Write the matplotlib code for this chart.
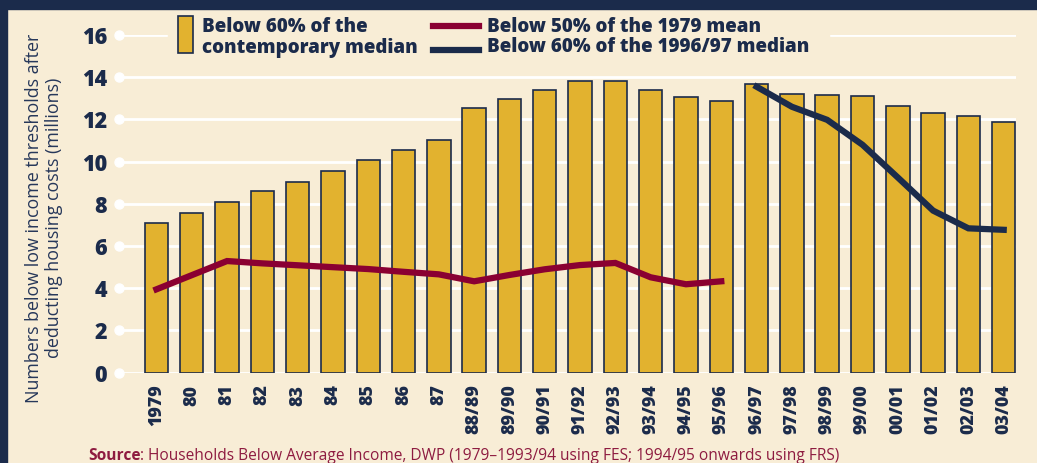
import matplotlib
matplotlib.use("Agg")
import matplotlib.pyplot as plt
from matplotlib.patches import Rectangle
from matplotlib.lines import Line2D
import numpy as np

categories = ["1979", "80", "81", "82", "83", "84", "85", "86", "87",
              "88/89", "89/90", "90/91", "91/92", "92/93", "93/94", "94/95",
              "95/96", "96/97", "97/98", "98/99", "99/00", "00/01", "01/02",
              "02/03", "03/04"]
contemporary_median = [7.07, 7.55, 8.07, 8.6, 9.05, 9.56, 10.06, 10.56, 11.04,
                       12.55, 12.97, 13.41, 13.84, 13.84, 13.41, 13.05, 12.89,
                       13.7, 13.21, 13.18, 13.11, 12.62, 12.29, 12.17, 11.9]
mean_1979_labels = categories[:17]
mean_1979 = [3.95, 4.62, 5.29, 5.18, 5.09, 5.0, 4.91, 4.78, 4.66, 4.33,
             4.63, 4.9, 5.1, 5.2, 4.52, 4.19, 4.33]
median_9697_labels = categories[17:]
median_9697 = [13.55, 12.6, 11.98, 10.8, 9.25, 7.68, 6.84, 6.77]
yticks = [0, 2, 4, 6, 8, 10, 12, 14, 16]

CREAM = "#F8EDD6"
GOLD = "#E2B22F"
NAVY = "#1B2B4B"
RED = "#8A0032"
SRC = "#8E1B40"
FONT = ["Open Sans", "DejaVu Sans"]
plt.rcParams["font.family"] = FONT

W, H = 1037, 463
fig = plt.figure(figsize=(W / 100, H / 100), dpi=100, facecolor=CREAM)

def fx(px):
    return px / W

def fy(py):
    return 1 - py / H

ax = fig.add_axes([fx(119), fy(372.7), fx(1015.7) - fx(119), fy(35) - fy(372.7)])
ax.set_facecolor(CREAM)
x = np.arange(len(categories))
ax.set_xlim(-1.06, len(categories) - 1 + 0.34)
ax.set_ylim(0, 16)
for s in ax.spines.values():
    s.set_visible(False)

ax.set_yticks(yticks)
ax.set_yticklabels([str(t) for t in yticks], fontsize=15.5, fontweight="heavy", color=NAVY)
ax.tick_params(axis="y", length=0, pad=8.5)
ax.yaxis.grid(True, color="white", linewidth=2.0, zorder=0)
ax.set_axisbelow(True)
ax.plot(np.full(len(yticks), ax.get_xlim()[0]), yticks, "o", color="white",
        markersize=6.5, clip_on=False, zorder=1)

ax.set_xticks(x)
ax.set_xticklabels(categories, rotation=90, fontsize=12.8, fontweight="heavy", color=NAVY,
                   va="top", ha="center")
ax.tick_params(axis="x", length=0, pad=8.5)

ax.bar(x, contemporary_median, width=0.665, color=GOLD, edgecolor=NAVY,
       linewidth=1.2, zorder=2)
idx = {c: i for i, c in enumerate(categories)}
ax.plot([idx[c] for c in mean_1979_labels], mean_1979, color=RED, linewidth=4.5,
        solid_joinstyle="miter", zorder=3)
ax.plot([idx[c] for c in median_9697_labels], median_9697, color=NAVY, linewidth=4.5,
        solid_joinstyle="miter", zorder=3)

# frame bands
fig.patches.append(Rectangle((0, fy(9)), 1, 1 - fy(9), transform=fig.transFigure,
                             color=NAVY, zorder=5))
fig.patches.append(Rectangle((0, 0), fx(7), 1, transform=fig.transFigure,
                             color=NAVY, zorder=5))

# legend area
fig.patches.append(Rectangle((fx(168), fy(58)), fx(829) - fx(168), fy(12) - fy(58),
                             transform=fig.transFigure, color=CREAM, zorder=4))
fig.patches.append(Rectangle((fx(177.5), fy(53.3)), fx(192.5) - fx(177.5), fy(15.7) - fy(53.3),
                             transform=fig.transFigure, facecolor=GOLD, edgecolor=NAVY,
                             linewidth=1.2, zorder=6))
fig.lines.append(Line2D([fx(433), fx(479)], [fy(25.5), fy(25.5)], transform=fig.transFigure,
                        color=RED, linewidth=4.5, zorder=6))
fig.lines.append(Line2D([fx(433), fx(479)], [fy(49.5), fy(49.5)], transform=fig.transFigure,
                        color=NAVY, linewidth=4.5, zorder=6))
lkw = dict(fontsize=13.5, fontweight="heavy", color=NAVY, va="baseline", ha="left", zorder=7)
fig.text(fx(201.5), fy(31.5), "Below 60% of the", **lkw)
fig.text(fx(201.5), fy(52.5), "contemporary median", **lkw)
fig.text(fx(487), fy(31.5), "Below 50% of the 1979 mean", **lkw)
fig.text(fx(487), fy(52.5), "Below 60% of the 1996/97 median", **lkw)

# y label
fig.text(fx(44), fy(218), "Numbers below low income thresholds after\ndeducting housing costs (millions)",
         rotation=90, ha="center", va="center", multialignment="center",
         fontsize=12.9, fontweight="medium", color="#26375A", linespacing=1.2)

# source
t1 = fig.text(fx(88), fy(460), "Source", fontsize=11.2, fontweight="bold", color=SRC,
              va="baseline", ha="left")
fig.canvas.draw()
bb = t1.get_window_extent(renderer=fig.canvas.get_renderer())
fig.text(bb.x1 / W, fy(460), ": Households Below Average Income, DWP (1979\u20131993/94 using FES; 1994/95 onwards using FRS)",
         fontsize=11.2, color=SRC, va="baseline", ha="left")

fig.savefig("out.png", dpi=100, facecolor=CREAM)
